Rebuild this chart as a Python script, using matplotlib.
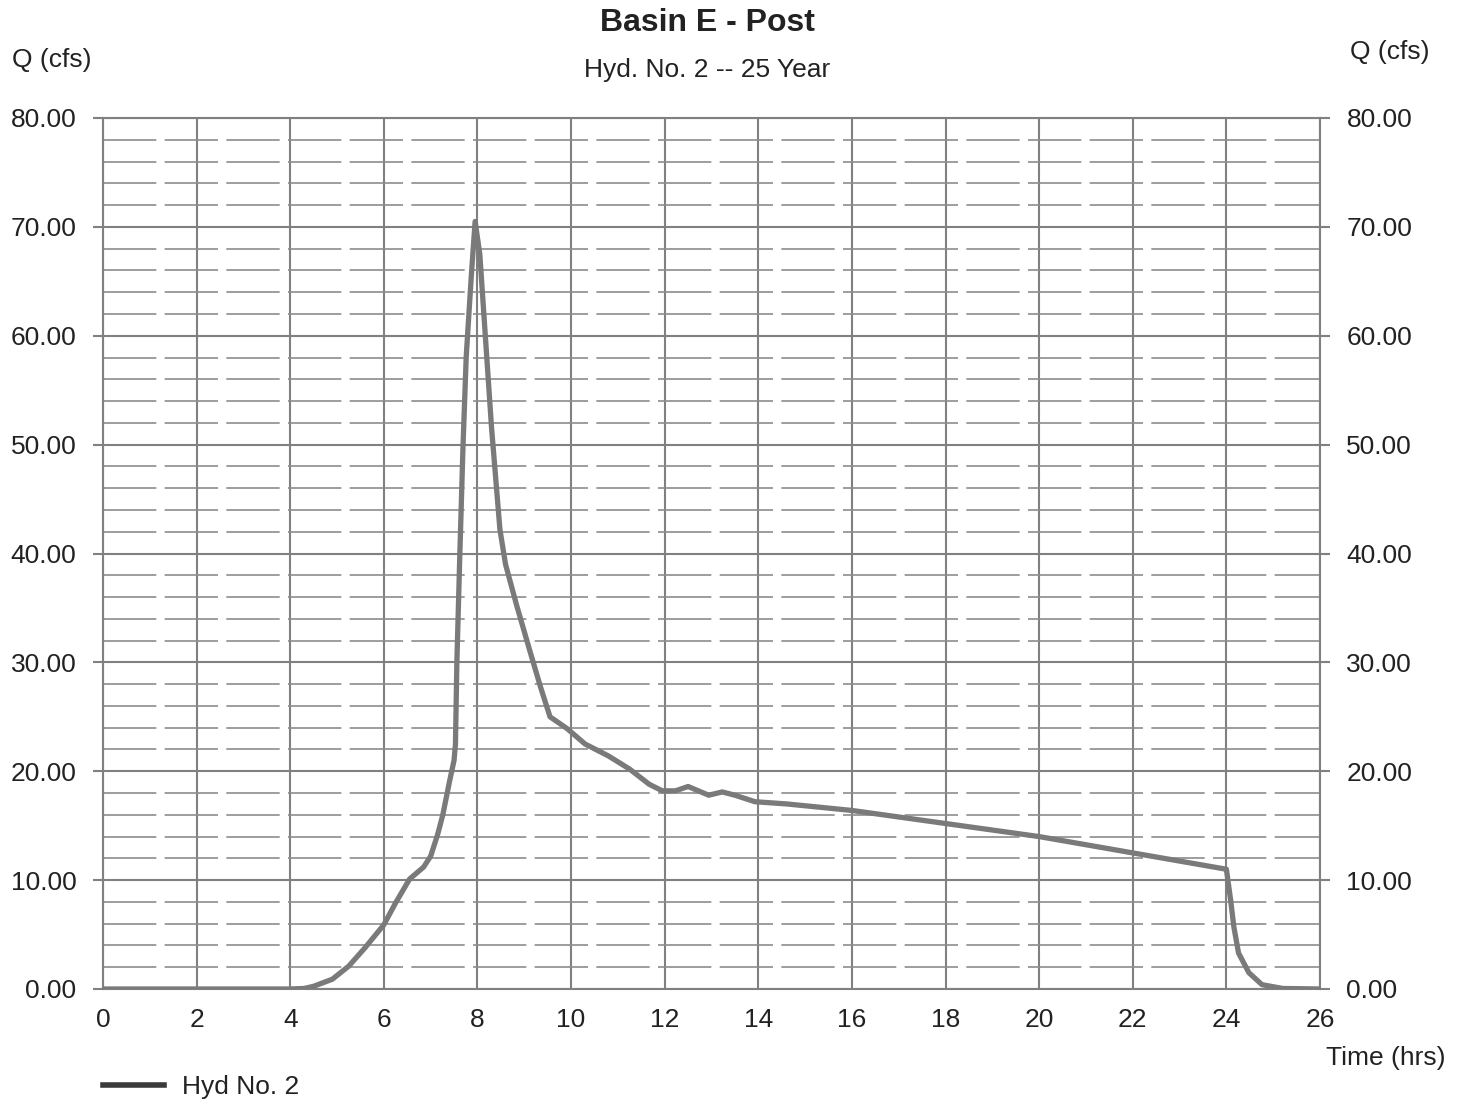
import matplotlib
matplotlib.use("Agg")
import matplotlib.pyplot as plt
from matplotlib.lines import Line2D
from matplotlib.ticker import MultipleLocator, FormatStrFormatter

plt.rcParams['font.family'] = ['Liberation Sans', 'DejaVu Sans']

# hydrograph (hours, cfs)
time_hrs = [0, 4.0, 4.3, 4.5, 4.9, 5.25, 5.6, 6.0, 6.25, 6.55, 6.85, 7.0, 7.15,
            7.26, 7.4, 7.5, 7.53, 7.56, 7.62, 7.69, 7.76, 7.87, 7.95, 8.05,
            8.16, 8.3, 8.48, 8.6, 8.84, 9.13, 9.35, 9.55, 9.92, 10.3, 10.8,
            11.25, 11.67, 11.95, 12.23, 12.5, 12.94, 13.23, 13.5, 13.93, 14.6,
            16.0, 18.0, 20.0, 22.0, 24.0, 24.09, 24.16, 24.26, 24.48, 24.76,
            25.2, 26.0]
flow_cfs = [0, 0, 0.05, 0.25, 0.9, 2.1, 3.8, 5.9, 7.9, 10.1, 11.2, 12.2, 14.2,
            16.0, 19.0, 21.0, 22.5, 30.0, 39.4, 49.7, 58.1, 65.6, 70.5, 67.5,
            60.5, 51.6, 42.2, 39.0, 35.2, 30.9, 27.7, 25.0, 23.9, 22.5, 21.4,
            20.2, 18.8, 18.2, 18.2, 18.6, 17.8, 18.1, 17.8, 17.2, 17.0,
            16.4, 15.2, 14.0, 12.5, 11.0, 8.2, 5.7, 3.3, 1.5, 0.4,
            0.05, 0]

title = "Basin E - Post"
subtitle = "Hyd. No. 2 -- 25 Year"
series_name = "Hyd No. 2"

grid_col = '#808080'
text_col = '#222222'
fs = 19

fig = plt.figure(figsize=(14.61, 11.02), dpi=100)
ax = fig.add_axes([103 / 1461, 1 - 989 / 1102, (1320 - 103) / 1461, (989 - 118) / 1102])

ax.plot(time_hrs, flow_cfs, color='#7a7a7a', lw=3.8, zorder=3,
        solid_joinstyle='round', solid_capstyle='round')

ax.set_xlim(0, 26)
ax.set_ylim(0, 80)
ax.xaxis.set_major_locator(MultipleLocator(2))
ax.yaxis.set_major_locator(MultipleLocator(10))
ax.yaxis.set_minor_locator(MultipleLocator(2))
ax.yaxis.set_major_formatter(FormatStrFormatter('%.2f'))

ax.grid(which='major', color=grid_col, lw=1.5, zorder=1)
ax.grid(which='minor', axis='y', color='#8c8c8c', lw=1.2,
        linestyle=(0, (32, 5)), zorder=1)
ax.set_axisbelow(True)

for sp in ax.spines.values():
    sp.set_color(grid_col)
    sp.set_linewidth(1.5)

ax.tick_params(axis='y', which='major', length=7, width=1.5, color=grid_col,
               labelsize=fs, labelcolor=text_col, pad=12,
               right=True, labelright=True)
ax.tick_params(axis='y', which='minor', length=0)
ax.tick_params(axis='x', length=0, labelsize=fs, labelcolor=text_col, pad=14)

fig.text(707 / 1461, 1 - 23 / 1102, title, ha='center', va='center',
         fontsize=23, fontweight='bold', color=text_col)
fig.text(707 / 1461, 1 - 70 / 1102, subtitle, ha='center', va='center',
         fontsize=fs, color=text_col)
fig.text(12 / 1461, 1 - 60 / 1102, "Q (cfs)", ha='left', va='center',
         fontsize=fs, color=text_col)
fig.text(1350 / 1461, 1 - 52 / 1102, "Q (cfs)", ha='left', va='center',
         fontsize=fs, color=text_col)
fig.text(1446 / 1461, 1 - 1058 / 1102, "Time (hrs)", ha='right', va='center',
         fontsize=fs, color=text_col)

handle = Line2D([], [], color='#3a3a3a', lw=4)
fig.legend([handle], [series_name], loc='center left',
           bbox_to_anchor=(103 / 1461, 1 - 1087 / 1102), frameon=False,
           fontsize=fs, handlelength=2.3, handletextpad=0.7,
           borderpad=0, borderaxespad=0, labelcolor=text_col)

fig.savefig("out.png", dpi=100, facecolor='white')
